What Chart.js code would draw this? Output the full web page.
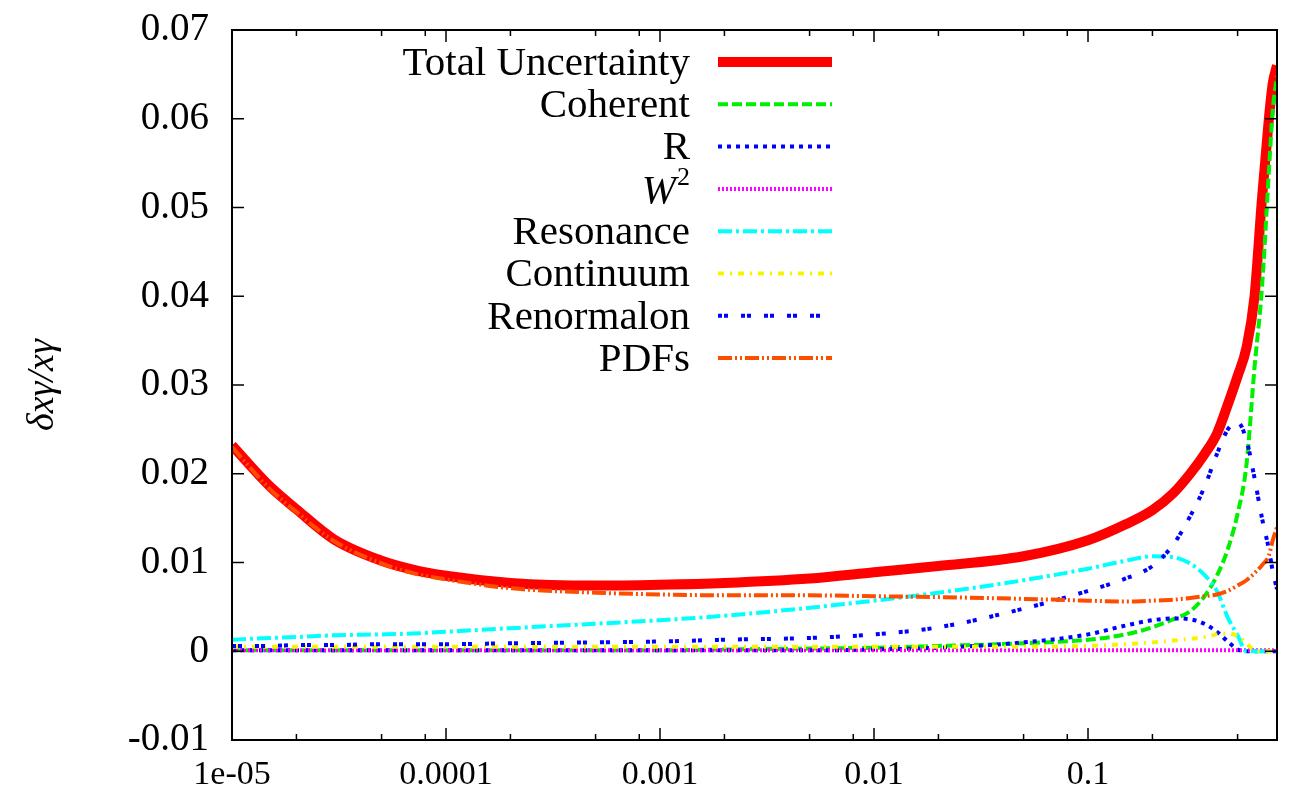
<!DOCTYPE html>
<html>
<head>
<meta charset="utf-8">
<script src="https://cdn.jsdelivr.net/npm/chart.js@4.4.0/dist/chart.umd.min.js"></script>
<style>
  html, body { margin: 0; padding: 0; background: #fff; }
  #wrap { width: 1290px; height: 797px; position: relative; }
</style>
</head>
<body>
<div id="wrap"><canvas id="uncChart"></canvas></div>
<script>
// x values (log axis) shared by all curves
const xValues = [1e-5, 1.5e-5, 2e-5, 3e-5, 5e-5, 7e-5, 1e-4, 2e-4, 5e-4, 1e-3, 2e-3, 5e-3,
  1e-2, 2e-2, 5e-2, 0.1, 0.15, 0.2, 0.25, 0.3, 0.35, 0.4, 0.45, 0.5, 0.55, 0.6, 0.65, 0.7, 0.73, 0.764];

const seriesLabels = ["Total Uncertainty", "Coherent", "R", "W²", "Resonance", "Continuum", "Renormalon", "PDFs"];

const totalUnc = [0.0232, 0.0186, 0.0160, 0.0126, 0.0102, 0.0092, 0.0085, 0.0077, 0.0074, 0.0075, 0.0077, 0.0082,
  0.0089, 0.0096, 0.0107, 0.0125, 0.0143, 0.0159, 0.0178, 0.0200, 0.0222, 0.0245, 0.0278, 0.0310, 0.0342, 0.0400, 0.0510, 0.0600, 0.0640, 0.0660];
const coherent = [0.0001, 0.0001, 0.0001, 0.0001, 0.0001, 0.0001, 0.0001, 0.0001, 0.0001, 0.0001, 0.0002, 0.0003,
  0.0004, 0.0006, 0.0009, 0.0013, 0.0019, 0.0027, 0.0036, 0.0045, 0.0062, 0.0085, 0.0115, 0.0155, 0.0210, 0.0320, 0.0410, 0.0540, 0.0610, 0.0648];
const rUnc = [0.0001, 0.0001, 0.0001, 0.0001, 0.0001, 0.0001, 0.0001, 0.0001, 0.0001, 0.0001, 0.0001, 0.0001,
  0.0002, 0.0004, 0.0010, 0.0019, 0.0029, 0.0035, 0.0037, 0.0036, 0.0031, 0.0022, 0.0011, 0.0002, 0, 0, 0, 0, 0, 0];
const w2Unc = [0.0001, 0.0001, 0.0001, 0.0001, 0.0001, 0.0001, 0.0001, 0.0001, 0.0001, 0.0001, 0.0001, 0.0001,
  0.0001, 0.0001, 0.0001, 0.0001, 0.0001, 0.0001, 0.0001, 0.0001, 0.0001, 0.0001, 0.0001, 0.0001, 0.0001, 0.0001, 0.0001, 0.0001, 0.0001, 0.0001];
const resonance = [0.0013, 0.0015, 0.0016, 0.0018, 0.0019, 0.0020, 0.0022, 0.0026, 0.0031, 0.0035, 0.0040, 0.0049,
  0.0057, 0.0066, 0.0080, 0.0093, 0.0102, 0.0107, 0.0106, 0.0099, 0.0086, 0.0068, 0.0038, 0.0018, 0, 0, 0, 0, 0, 0];
const continuum = [0.0005, 0.0005, 0.0005, 0.0005, 0.0005, 0.0005, 0.0005, 0.0005, 0.0005, 0.0005, 0.0005, 0.0005,
  0.0005, 0.0005, 0.0005, 0.0006, 0.0008, 0.0010, 0.0012, 0.0014, 0.0016, 0.0019, 0.0020, 0.0017, 0.0009, 0.0001, 0, 0, 0, 0];
const renormalon = [0.0006, 0.0006, 0.0007, 0.0007, 0.0008, 0.0008, 0.0008, 0.0009, 0.0010, 0.0011, 0.0013, 0.0015,
  0.0019, 0.0027, 0.0048, 0.0068, 0.0082, 0.0096, 0.0120, 0.0152, 0.0185, 0.0222, 0.0250, 0.0258, 0.0238, 0.0195, 0.0150, 0.0115, 0.0090, 0.0070];
const pdfs = [0.0230, 0.0183, 0.0157, 0.0124, 0.0099, 0.0088, 0.0081, 0.0071, 0.0066, 0.0064, 0.0063, 0.0063,
  0.0062, 0.0061, 0.0059, 0.0057, 0.0056, 0.0057, 0.0058, 0.0060, 0.0062, 0.0064, 0.0068, 0.0074, 0.0080, 0.0088, 0.0097, 0.0108, 0.0125, 0.0140];

// axis ticks
const xTickValues = [1e-5, 1e-4, 1e-3, 1e-2, 1e-1];
const xTickLabels = ["1e-05", "0.0001", "0.001", "0.01", "0.1"];
const yTickValues = [-0.01, 0, 0.01, 0.02, 0.03, 0.04, 0.05, 0.06, 0.07];
const yTickLabels = ["-0.01", "0", "0.01", "0.02", "0.03", "0.04", "0.05", "0.06", "0.07"];

const allSeries = [totalUnc, coherent, rUnc, w2Unc, resonance, continuum, renormalon, pdfs];
const styles = [
  { color: "#ff0000", width: 10, dash: [] },
  { color: "#00f000", width: 4, dash: [10, 4] },
  { color: "#0000ff", width: 4, dash: [4, 5] },
  { color: "#ff00ff", width: 4, dash: [2, 2] },
  { color: "#00ffff", width: 4, dash: [14, 4, 3, 4] },
  { color: "#f5f500", width: 4, dash: [6, 6, 2, 6] },
  { color: "#0000ff", width: 4, dash: [4, 2, 4, 13] },
  { color: "#ff4d00", width: 4, dash: [14, 3, 2, 3, 2, 3] },
];

const datasets = allSeries.map((ys, i) => ({
  label: seriesLabels[i],
  data: xValues.map((x, j) => ({ x: x, y: ys[j] })),
  borderColor: styles[i].color,
  borderWidth: styles[i].width,
  borderDash: styles[i].dash,
  pointRadius: 0,
  fill: false,
  cubicInterpolationMode: "monotone",
  order: -i,
}));

// gnuplot style frame with inward ticks
const framePlugin = {
  id: "frame",
  afterDatasetsDraw(chart) {
    const { ctx, chartArea: a, scales } = chart;
    const xs = scales.x, ys = scales.y;
    ctx.save();
    ctx.strokeStyle = "#000";
    ctx.lineWidth = 1.5;
    ctx.beginPath();
    const xMin = xs.min, xMax = xs.max;
    for (let d = 1e-5; d < 1; d *= 10) {
      [1, 2, 5, 8].forEach((m) => {
        const v = d * m;
        if (v < xMin * 0.999 || v > xMax) return;
        const px = xs.getPixelForValue(v);
        const len = m === 1 ? 12 : 6;
        ctx.moveTo(px, a.bottom); ctx.lineTo(px, a.bottom - len);
        ctx.moveTo(px, a.top); ctx.lineTo(px, a.top + len);
      });
    }
    yTickValues.forEach((v) => {
      const py = ys.getPixelForValue(v);
      ctx.moveTo(a.left, py); ctx.lineTo(a.left + 12, py);
      ctx.moveTo(a.right, py); ctx.lineTo(a.right - 12, py);
    });
    ctx.stroke();
    ctx.lineWidth = 2;
    ctx.strokeRect(a.left, a.top, a.right - a.left, a.bottom - a.top);
    ctx.restore();
  },
};

// legend: right aligned text with line sample
const keyPlugin = {
  id: "key",
  afterDraw(chart) {
    const ctx = chart.ctx;
    ctx.save();
    chart.data.datasets.forEach((ds, i) => {
      const yRow = 62 + i * 42.3;
      ctx.fillStyle = "#000";
      ctx.textBaseline = "middle";
      ctx.textAlign = "right";
      if (ds.label === "W²") {
        ctx.font = '26px "Liberation Serif"';
        ctx.fillText("2", 690, yRow - 11);
        const w2 = ctx.measureText("2").width;
        ctx.font = 'italic 41px "Liberation Serif"';
        ctx.fillText("W", 690 - w2 - 1, yRow + 3);
      } else {
        ctx.font = '41px "Liberation Serif"';
        ctx.fillText(ds.label, 690, yRow + 2);
      }
      ctx.beginPath();
      ctx.strokeStyle = ds.borderColor;
      ctx.lineWidth = ds.borderWidth;
      ctx.setLineDash(ds.borderDash);
      ctx.moveTo(718, yRow);
      ctx.lineTo(832, yRow);
      ctx.stroke();
      ctx.setLineDash([]);
    });
    ctx.restore();
  },
};

const ctx = document.getElementById("uncChart").getContext("2d");
new Chart(ctx, {
  type: "line",
  data: { datasets: datasets },
  options: {
    responsive: true,
    maintainAspectRatio: false,
    animation: false,
    layout: { padding: { top: 30, right: 13, left: 0, bottom: 0 } },
    plugins: { legend: { display: false }, tooltip: { enabled: false } },
    scales: {
      x: {
        type: "logarithmic",
        min: 1e-5,
        max: 0.764,
        grid: { display: false, drawTicks: false },
        border: { display: false },
        afterBuildTicks: (scale) => {
          scale.ticks = xTickValues.map((v) => ({ value: v }));
        },
        afterFit: (scale) => { scale.height = 57; },
        ticks: {
          autoSkip: false,
          maxRotation: 0,
          padding: 15,
          color: "#000",
          font: { family: "Liberation Serif", size: 34 },
          callback: (value) => {
            const k = xTickValues.findIndex((v) => Math.abs(v - value) / v < 1e-6);
            return k >= 0 ? xTickLabels[k] : "";
          },
        },
      },
      y: {
        min: -0.01,
        max: 0.07,
        grid: { display: false, drawTicks: false },
        border: { display: false },
        afterBuildTicks: (scale) => {
          scale.ticks = yTickValues.map((v) => ({ value: v }));
        },
        afterFit: (scale) => {
          scale.width = 232;
          scale.paddingTop = 0;
          scale.paddingBottom = 0;
        },
        ticks: {
          padding: 23,
          color: "#000",
          font: { family: "Liberation Serif", size: 39 },
          callback: (value) => {
            const k = yTickValues.findIndex((v) => Math.abs(v - value) < 1e-9);
            return k >= 0 ? yTickLabels[k] : "";
          },
        },
        title: {
          display: true,
          text: "δxγ/xγ",
          color: "#000",
          padding: { top: 20, bottom: 0 },
          font: { family: "Liberation Serif", size: 38, style: "italic" },
        },
      },
    },
  },
  plugins: [framePlugin, keyPlugin],
});
</script>
</body>
</html>
